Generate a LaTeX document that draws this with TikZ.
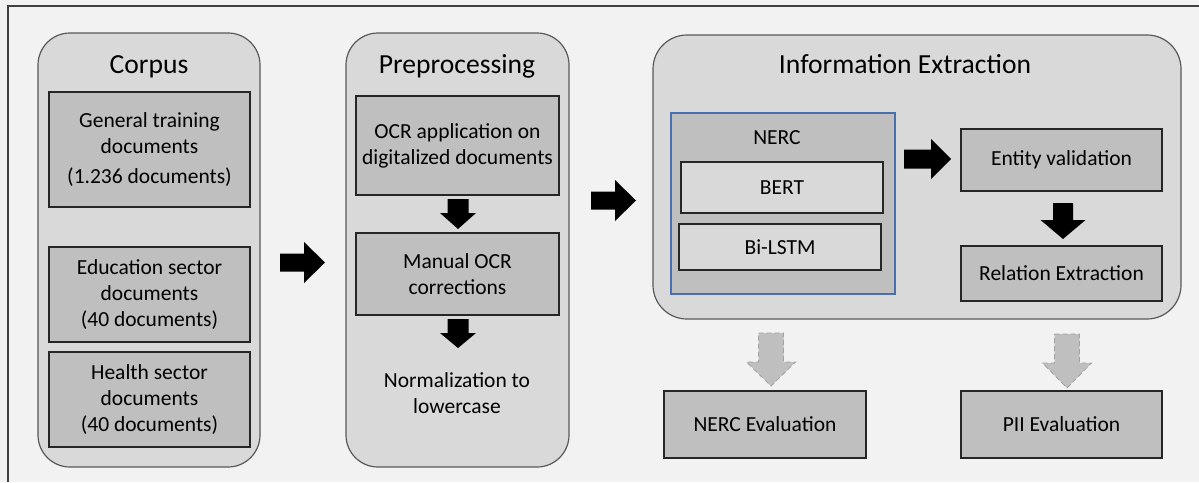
\documentclass[tikz,border=0pt]{standalone}
\usepackage{fontspec}
\setmainfont{Carlito}
\definecolor{bg}{HTML}{F2F2F2}
\definecolor{panel}{HTML}{D9D9D9}
\definecolor{boxc}{HTML}{BFBFBF}
\definecolor{panelline}{HTML}{595959}
\definecolor{boxline}{HTML}{262626}
\definecolor{frameline}{HTML}{404040}
\definecolor{nercblue}{HTML}{4A6FB0}
\definecolor{garrowline}{HTML}{A0A0A0}
\newcommand\mybody{\fontsize{21.5}{26}\selectfont}
\newcommand\mytitle{\fontsize{27.6}{33}\selectfont}
\begin{document}
\begin{tikzpicture}[x=1pt,y=-1pt,
  panelbox/.style={draw=panelline, line width=1.2pt, fill=panel, rounded corners=32pt, inner sep=0pt},
  stepbox/.style={draw=boxline, line width=1.3pt, fill=boxc, inner sep=0pt, align=center, font=\mybody},
  modelbox/.style={stepbox, fill=panel},
  titletext/.style={font=\mytitle, anchor=base, inner sep=0pt},
  plaintext/.style={font=\mybody, align=center, inner sep=0pt},
  blkarrow/.style={fill=black},
  greyarrow/.style={fill=boxc, draw=garrowline, line width=0.8pt, dash pattern=on 5pt off 3pt}
]
\useasboundingbox (0,0) rectangle (1199,482);
\fill[bg] (0,0) rectangle (1199,482);
\draw[frameline, line width=1.3pt] (8,482) -- (8,6) -- (1199,6);

% Corpus
\node[panelbox, minimum width=222pt, minimum height=434pt] (corpus) at (149,250) {};
\node[titletext] (corpust) at (149,73) {Corpus};
\node[stepbox, minimum width=201pt, minimum height=115pt] (gen) at (149.5,149.5) {General training\\documents\\[4pt](1.236 documents)};
\node[stepbox, minimum width=201pt, minimum height=95pt] (edu) at (149.5,294.5) {Education sector\\documents\\(40 documents)};
\node[stepbox, minimum width=201pt, minimum height=95pt] (hea) at (149.5,399.5) {Health sector\\documents\\(40 documents)};

% arrow corpus -> preprocessing
\path[blkarrow] (280,253.5) -- (304,253.5) -- (304,242) -- (325,262.5) -- (304,283) -- (304,271.5) -- (280,271.5) -- cycle;

% Preprocessing
\node[panelbox, minimum width=223pt, minimum height=434pt] (pre) at (457.5,250) {};
\node[titletext] (pret) at (457,73) {Preprocessing};
\node[stepbox, minimum width=203pt, minimum height=99pt] (ocr) at (457.5,145.5) {OCR application on\\digitalized documents};
\node[stepbox, minimum width=203pt, minimum height=82pt] (man) at (457.5,274) {Manual OCR\\corrections};
\node[plaintext] (norm) at (457,393) {Normalization to\\lowercase};
\path[blkarrow] (447.5,199) -- (468.5,199) -- (468.5,213) -- (476,213) -- (458,229) -- (440,213) -- (447.5,213) -- cycle;
\path[blkarrow] (447.5,319) -- (468.5,319) -- (468.5,333) -- (476,333) -- (458,348) -- (440,333) -- (447.5,333) -- cycle;

% arrow preprocessing -> IE
\path[blkarrow] (591,191.5) -- (615,191.5) -- (615,180) -- (636,200.5) -- (615,221) -- (615,209.5) -- (591,209.5) -- cycle;

% Information Extraction
\node[panelbox, rounded corners=34pt, minimum width=528pt, minimum height=284pt] (ie) at (917,177) {};
\node[titletext] (iet) at (905,73) {Information Extraction};
\node[draw=nercblue, line width=1.4pt, fill=boxc, minimum width=224pt, minimum height=181pt, inner sep=0pt] (nerc) at (783,203.5) {};
\node[font=\mybody, anchor=base, inner sep=0pt] (nerct) at (777,144) {NERC};
\node[modelbox, minimum width=202pt, minimum height=51pt] (bert) at (782,187.5) {BERT};
\node[modelbox, minimum width=202pt, minimum height=46pt] (lstm) at (780,247) {Bi-LSTM};
\node[stepbox, minimum width=201pt, minimum height=62pt] (ent) at (1061.5,160) {Entity validation};
\node[stepbox, minimum width=201pt, minimum height=55pt] (rel) at (1061.5,273.5) {Relation Extraction};
\path[blkarrow] (904,149.5) -- (931,149.5) -- (931,139) -- (951,159) -- (931,179) -- (931,168.5) -- (904,168.5) -- cycle;
\path[blkarrow] (1053,203) -- (1073,203) -- (1073,220) -- (1085.5,220) -- (1063,239) -- (1040.5,220) -- (1053,220) -- cycle;

% Evaluations
\path[greyarrow] (758.5,333) -- (783.5,333) -- (783.5,362) -- (795.5,362) -- (771,386) -- (746.5,362) -- (758.5,362) -- cycle;
\path[greyarrow] (1054.5,334) -- (1079.5,334) -- (1079.5,363) -- (1091.5,363) -- (1067,388) -- (1042.5,363) -- (1054.5,363) -- cycle;
\node[stepbox, minimum width=202pt, minimum height=67pt] (nev) at (765,424.5) {NERC Evaluation};
\node[stepbox, minimum width=201pt, minimum height=67pt] (pev) at (1061.5,424.5) {PII Evaluation};
\end{tikzpicture}
\end{document}
